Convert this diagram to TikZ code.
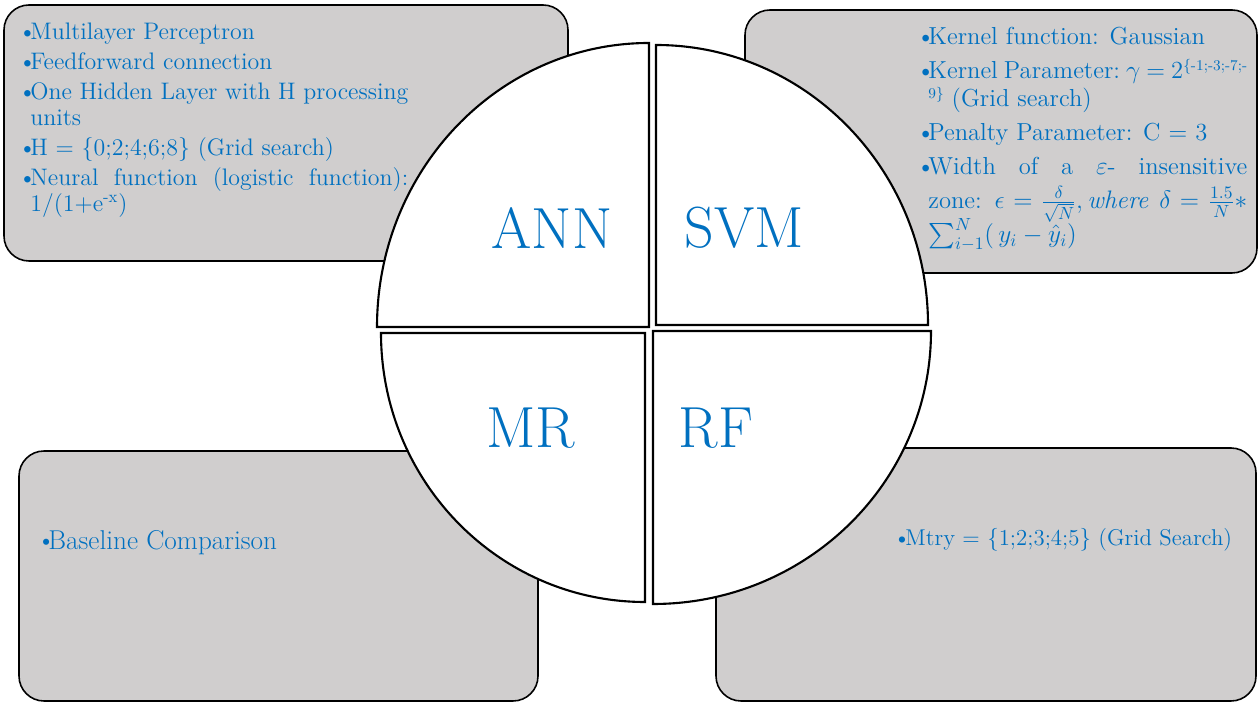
\documentclass[tikz,border=0pt]{standalone}
\usepackage{amsmath}
\usepackage{xcolor}
\usetikzlibrary{positioning}
\definecolor{boxgray}{RGB}{208,206,206}
\definecolor{txtblue}{RGB}{0,112,192}
\newcommand{\bdot}{\makebox[0.24cm][l]{\textbullet}}
\newcommand{\bpt}[1]{\par\noindent\hangindent=0.24cm\hangafter=1\bdot#1}
\newcommand{\sps}[1]{\raisebox{0.75ex}{\fontsize{8.5}{9}\selectfont #1}}

\begin{document}
\begin{tikzpicture}[x=0.02cm,y=0.02cm,
box/.style={draw=black,line width=0.9pt,fill=boxgray,rounded corners=0.5cm},
part/.style={draw=black,line width=1.2pt,fill=white},
big/.style={text=txtblue,font=\fontsize{33}{36}\selectfont},
info/.style={text=txtblue,inner sep=0pt,align=justify,font=\fontsize{13.6}{14.8}\selectfont,
  execute at begin node={\setlength{\parskip}{2.3pt}\lineskiplimit=-20pt\hyphenpenalty=10000\exhyphenpenalty=10000}}
]
\useasboundingbox (0,0) rectangle (1258,703);
% grey boxes
\draw[box] (4,442) rectangle (568,698);
\draw[box] (745,430) rectangle (1257,693);
\draw[box] (19,2) rectangle (538,252);
\draw[box] (716,2) rectangle (1256,255);
% four quarters
\draw[part] (649,376) -- (377,376) arc[start angle=180,end angle=90,x radius=272,y radius=284] -- cycle;
\draw[part] (656,378) -- (656,658) arc[start angle=90,end angle=0,x radius=272,y radius=280] -- cycle;
\draw[part] (645,370) -- (645,101) arc[start angle=270,end angle=180,x radius=264,y radius=269] -- cycle;
\draw[part] (653,372) -- (931,372) arc[start angle=0,end angle=-90,x radius=278,y radius=273] -- cycle;
\node[big] (ann) at (552,475) {ANN};
\node[big] (svm) at (744,475) {SVM};
\node[big] (mr) at (531,275) {MR};
\node[big] (rf) at (716,275) {RF};
% texts
\node[info,text width=7.8cm,anchor=north west] (annTxt) at (18,694) {%
\bpt{Multilayer Perceptron}
\bpt{Feedforward connection}
\bpt{One Hidden Layer with H processing units}
\bpt{H = \{0;2;4;6;8\} (Grid search)}
\bpt{Neural function (logistic function): 1/(1+e\textsuperscript{-x})}\par};
\node[info,text width=6.62cm,anchor=north west,font=\fontsize{14}{15.9}\selectfont,
  execute at begin node={\setlength{\parskip}{3.4pt}}] (svmTxt) at (916,693) {%
\bpt{Kernel function: Gaussian}
\bpt{Kernel Parameter:~$\gamma$~=~2\sps{\{-1;-3;-7;-}\linebreak\sps{9\}} (Grid search)}
\bpt{Penalty Parameter: C = 3}\par\vspace{-3.4pt}
\bpt{Width of a $\varepsilon$- insensitive\linebreak zone: $\epsilon=\frac{\delta}{\sqrt{N}},\mathit{where}\ \delta=\frac{1.5}{N}*$\linebreak $\sum_{i-1}^{N}(\,y_i-\hat{y}_i)$\baselineskip=19.5pt}\par};
\node[info,anchor=west,font=\fontsize{15.5}{16}\selectfont] (mrTxt) at (36,160) {\bdot Baseline Comparison};
\node[info,anchor=west,font=\fontsize{13}{14}\selectfont] (rfTxt) at (893,163) {\bdot Mtry = \{1;2;3;4;5\} (Grid Search)};
\end{tikzpicture}
\end{document}
